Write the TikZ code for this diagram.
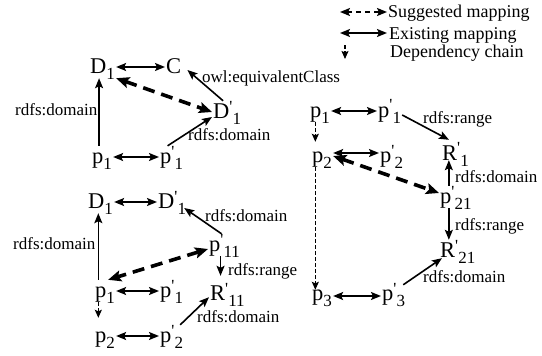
\documentclass[tikz,border=0pt]{standalone}
\usepackage{fontspec}
\setmainfont{Liberation Serif}
\newfontfamily\tnr{Liberation Serif}
\usetikzlibrary{arrows.meta}
% entity name: letter, optional prime, subscript
\newcommand\ndtxt[3]{{\tnr\fontsize{22.5}{24}\selectfont #1}{\tnr\fontsize{17}{18}\selectfont\raisebox{6pt}{#2}\raisebox{-6pt}{#3}}}
\begin{document}
\begin{tikzpicture}[x=1pt,y=-1pt,
  every node/.style={font=\tnr},
  nd/.style={inner sep=1pt, text height=16pt, text depth=4pt, anchor=base west},
  lbl/.style={inner sep=0pt, anchor=base west, font=\tnr\fontsize{17}{20}\selectfont},
  leg/.style={inner sep=0pt, anchor=base west, font=\tnr\fontsize{18}{21}\selectfont},
  exist/.style={line width=1.6pt, {Stealth[length=10pt,width=8pt,inset=2pt]}-{Stealth[length=10pt,width=8pt,inset=2pt]}},
  rel/.style={line width=1.6pt, -{Stealth[length=10pt,width=8pt,inset=2pt]}},
  sugg/.style={line width=3.6pt, dash pattern=on 12pt off 7pt, {Stealth[length=13pt,width=11pt,inset=2.5pt]}-{Stealth[length=13pt,width=11pt,inset=2.5pt]}},
  legsugg/.style={line width=1.8pt, dash pattern=on 5pt off 4pt, {Stealth[length=10pt,width=8pt,inset=2pt]}-{Stealth[length=10pt,width=8pt,inset=2pt]}},
  dep/.style={line width=1.2pt, dash pattern=on 3.5pt off 2.5pt, -{Stealth[length=8pt,width=7pt,inset=1.5pt]}}]
\useasboundingbox (0,0) rectangle (542,356);
\fill[white] (0,0) rectangle (542,356);

% ---------- legend ----------
\coordinate (ls1) at (340,12);
\coordinate (ls2) at (387,12);
\coordinate (le1) at (340,33);
\coordinate (le2) at (387,33);
\coordinate (ld1) at (345,45);
\coordinate (ld2) at (345,59);
\draw[legsugg] (ls1) -- (ls2);
\draw[exist] (le1) -- (le2);
\draw[dep] (ld1) -- (ld2);
\node[leg] (lsug) at (388,17) {Suggested mapping};
\node[leg] (lexi) at (389,39) {Existing mapping};
\node[leg] (ldep) at (390,57) {Dependency chain};

% ---------- upper left group ----------
\node[nd] (D1a) at (89,73) {\ndtxt{D}{}{1}};
\node[nd] (Ca) at (165,73) {\ndtxt{C}{}{}};
\node[nd] (Dp1a) at (212,118) {\ndtxt{D}{'}{1}};
\node[nd] (p1a) at (91,163) {\ndtxt{p}{}{1}};
\node[nd] (pp1a) at (159,163) {\ndtxt{p}{'}{1}};

\draw[exist] (D1a.east) -- (Ca.west);
\draw[sugg] (D1a.south east) -- (Dp1a.west);
\draw[rel] ([xshift=-4pt]Dp1a.north) -- ([xshift=5pt,yshift=-3pt]Ca.east);
\draw[rel] ([xshift=-3pt]p1a.north) -- ([xshift=-3pt]p1a.north |- D1a.south);
\draw[rel] ([xshift=-4pt]pp1a.north) -- ([yshift=-5pt]Dp1a.west);
\draw[exist] (p1a.east) -- (pp1a.west);

\node[lbl] (la1) at (15,115) {rdfs:domain};
\node[lbl] (la2) at (202,82) {owl:equivalentClass};
\node[lbl] (la3) at (188,140) {rdfs:domain};

% ---------- lower left group ----------
\node[nd] (D1b) at (87,208) {\ndtxt{D}{}{1}};
\node[nd] (Dp1b) at (157,208) {\ndtxt{D}{'}{1}};
\node[nd] (pp11) at (208,251) {\ndtxt{p}{'}{11}};
\node[nd] (Rp11) at (209,300) {\ndtxt{R}{'}{11}};
\node[nd] (p1b) at (94,297) {\ndtxt{p}{}{1}};
\node[nd] (pp1b) at (159,297) {\ndtxt{p}{'}{1}};
\node[nd] (p2b) at (94,342) {\ndtxt{p}{}{2}};
\node[nd] (pp2b) at (159,342) {\ndtxt{p}{'}{2}};

\draw[exist] (D1b.east) -- (Dp1b.west);
\draw[rel] ([xshift=-3pt]pp11.north) -- ([xshift=-3pt,yshift=-6pt]Dp1b.east);
\draw[rel, shorten >=7pt] ([xshift=-4pt]pp11.south) -- ([xshift=-4pt]pp11.south |- Rp11.north);
\draw[sugg] ([yshift=-4pt]pp11.west) -- ([xshift=-8pt]p1b.north east);
\draw[rel] ([xshift=-6.75pt]p1b.north) -- ([xshift=-6.75pt]p1b.north |- D1b.south);
\draw[exist] (p1b.east) -- (pp1b.west);
\draw[dep, shorten >=7pt] ([xshift=-6.75pt]p1b.south) -- ([xshift=-6.75pt]p1b.south |- p2b.north);
\draw[exist] (p2b.east) -- (pp2b.west);
\draw[rel] ([xshift=-4pt]pp2b.north east) -- ([yshift=8pt]Rp11.south west);

\node[lbl] (lb1) at (13,249) {rdfs:domain};
\node[lbl] (lb2) at (205,221) {rdfs:domain};
\node[lbl] (lb3) at (228,275) {rdfs:range};
\node[lbl] (lb4) at (197,322) {rdfs:domain};

% ---------- right group ----------
\node[nd] (p1c) at (309,117) {\ndtxt{p}{}{1}};
\node[nd] (pp1c) at (377,117) {\ndtxt{p}{'}{1}};
\node[nd] (p2c) at (311,162) {\ndtxt{p}{}{2}};
\node[nd] (pp2c) at (379,162) {\ndtxt{p}{'}{2}};
\node[nd] (p3c) at (311,300) {\ndtxt{p}{}{3}};
\node[nd] (pp3c) at (381,300) {\ndtxt{p}{'}{3}};
\node[nd] (Rp1) at (441,160) {\ndtxt{R}{'}{1}};
\node[nd] (pp21) at (439,203) {\ndtxt{p}{'}{21}};
\node[nd] (Rp21) at (439,257) {\ndtxt{R}{'}{21}};

\draw[exist] (p1c.east) -- (pp1c.west);
\draw[dep, shorten >=3pt] ([xshift=-4.75pt]p1c.south) -- ([xshift=-4.75pt]p1c.south |- p2c.north);
\draw[exist] ([yshift=3pt]p2c.east) -- ([yshift=3pt]pp2c.west);
\draw[dep, shorten >=-7pt] ([xshift=-6.75pt]p2c.south) -- ([xshift=-6.75pt]p2c.south |- p3c.north);
\draw[exist] ([yshift=-2pt]p3c.east) -- ([yshift=-2pt]pp3c.west);
\draw[rel] ([yshift=-4pt]pp1c.east) -- ([xshift=-6.5pt,yshift=3pt]Rp1.north);
\draw[rel, shorten >=-5pt] ([xshift=-7pt]pp21.north) -- ([xshift=-7pt]pp21.north |- Rp1.south);
\draw[rel] ([xshift=-7pt]pp21.south) -- ([xshift=-7pt]pp21.south |- Rp21.north);
\draw[sugg] (p2c.east) -- ([yshift=4pt]pp21.west);
\draw[rel] ([xshift=-3pt,yshift=-2pt]pp3c.north east) -- ([xshift=3pt,yshift=4pt]Rp21.south west);

\node[lbl] (lc1) at (423,123) {rdfs:range};
\node[lbl] (lc2) at (455,182) {rdfs:domain};
\node[lbl] (lc3) at (455,230) {rdfs:range};
\node[lbl] (lc4) at (423,282) {rdfs:domain};
\end{tikzpicture}
\end{document}
